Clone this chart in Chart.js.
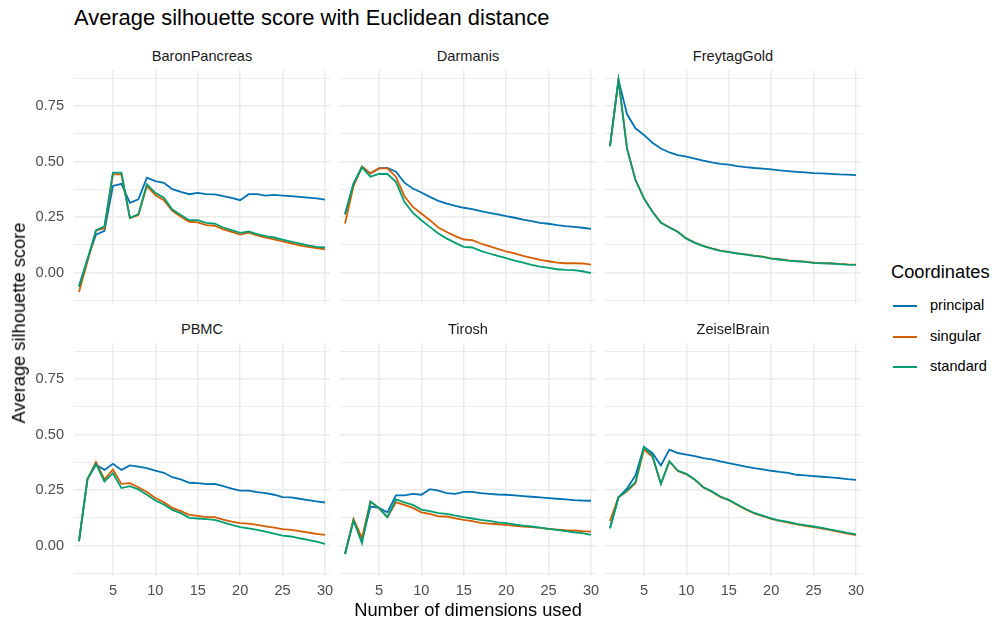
<!DOCTYPE html>
<html>
<head>
<meta charset="utf-8">
<script src="https://cdn.jsdelivr.net/npm/chart.js@4.4.1/dist/chart.umd.min.js"></script>
<style>
  body { margin: 0; background: #fff; font-family: "Liberation Sans", Arial, Helvetica, sans-serif; }
  #wrap { position: relative; width: 995px; height: 624px; overflow: hidden; }
  #wrap canvas { position: absolute; }
  .txt { position: absolute; white-space: nowrap; line-height: 1; }
  .strip { font-size: 14.6px; color: #1A1A1A; text-align: center; width: 256px; }
  .key { position: absolute; width: 24px; height: 2px; }
</style>
</head>
<body>
<div id="wrap"></div>
<script>
// ---- data ----
const dims = [1, 2, 3, 4, 5, 6, 7, 8, 9, 10, 11, 12, 13, 14, 15, 16, 17, 18, 19, 20, 21, 22, 23, 24, 25, 26, 27, 28, 29, 30];
const panels = ['BaronPancreas', 'Darmanis', 'FreytagGold', 'PBMC', 'Tirosh', 'ZeiselBrain'];
const coordinates = ['principal', 'singular', 'standard'];
const colours = ['#0072B2', '#D55E00', '#009E73'];
const xBreaks = [5, 10, 15, 20, 25, 30];
const yBreaks = [-0.125, 0, 0.125, 0.25, 0.375, 0.5, 0.625, 0.75, 0.875];
const yMajor = [0, 0.25, 0.5, 0.75];
const yTickLabels = ['0.00', '0.25', '0.50', '0.75'];

const baronPrincipal = [-0.06, 0.06, 0.171, 0.188, 0.39, 0.40, 0.314, 0.33, 0.428, 0.412, 0.404, 0.376, 0.364, 0.353, 0.359, 0.353, 0.352, 0.344, 0.337, 0.326, 0.353, 0.353, 0.347, 0.35, 0.347, 0.344, 0.341, 0.338, 0.334, 0.329];
const baronSingular = [-0.087, 0.05, 0.19, 0.20, 0.442, 0.442, 0.246, 0.259, 0.389, 0.349, 0.326, 0.278, 0.251, 0.229, 0.226, 0.214, 0.211, 0.195, 0.183, 0.171, 0.18, 0.168, 0.158, 0.15, 0.141, 0.132, 0.123, 0.116, 0.11, 0.105];
const baronStandard = [-0.065, 0.06, 0.19, 0.209, 0.45, 0.45, 0.246, 0.263, 0.398, 0.359, 0.337, 0.284, 0.259, 0.236, 0.236, 0.224, 0.221, 0.203, 0.191, 0.179, 0.185, 0.173, 0.164, 0.158, 0.149, 0.14, 0.131, 0.123, 0.116, 0.113];

const darmanisPrincipal = [0.263, 0.40, 0.477, 0.447, 0.469, 0.472, 0.454, 0.405, 0.379, 0.361, 0.341, 0.323, 0.311, 0.301, 0.292, 0.286, 0.277, 0.269, 0.262, 0.254, 0.247, 0.239, 0.232, 0.224, 0.22, 0.214, 0.209, 0.206, 0.202, 0.197];
const darmanisSingular = [0.221, 0.389, 0.477, 0.447, 0.469, 0.469, 0.432, 0.344, 0.296, 0.266, 0.236, 0.203, 0.183, 0.164, 0.149, 0.146, 0.131, 0.119, 0.107, 0.095, 0.086, 0.075, 0.066, 0.057, 0.051, 0.045, 0.042, 0.042, 0.041, 0.036];
const darmanisStandard = [0.263, 0.40, 0.474, 0.432, 0.444, 0.444, 0.409, 0.319, 0.269, 0.236, 0.206, 0.176, 0.153, 0.134, 0.116, 0.113, 0.098, 0.086, 0.075, 0.065, 0.054, 0.045, 0.035, 0.027, 0.021, 0.015, 0.012, 0.011, 0.006, -0.002];

const freytagPrincipal = [0.57, 0.868, 0.714, 0.65, 0.62, 0.585, 0.559, 0.541, 0.529, 0.522, 0.513, 0.504, 0.496, 0.49, 0.486, 0.48, 0.475, 0.471, 0.468, 0.465, 0.46, 0.457, 0.454, 0.451, 0.448, 0.447, 0.445, 0.442, 0.441, 0.439];
const freytagSingular = [0.57, 0.868, 0.561, 0.418, 0.335, 0.275, 0.225, 0.204, 0.184, 0.154, 0.135, 0.12, 0.109, 0.099, 0.093, 0.087, 0.082, 0.076, 0.072, 0.064, 0.06, 0.055, 0.052, 0.049, 0.045, 0.043, 0.042, 0.039, 0.037, 0.036];
const freytagStandard = [0.57, 0.868, 0.559, 0.417, 0.334, 0.274, 0.224, 0.203, 0.183, 0.153, 0.134, 0.119, 0.108, 0.098, 0.092, 0.086, 0.081, 0.075, 0.071, 0.063, 0.059, 0.054, 0.051, 0.048, 0.044, 0.042, 0.041, 0.038, 0.036, 0.035];

const pbmcPrincipal = [0.02, 0.30, 0.364, 0.341, 0.368, 0.341, 0.361, 0.356, 0.349, 0.338, 0.328, 0.308, 0.298, 0.283, 0.281, 0.277, 0.278, 0.268, 0.257, 0.248, 0.248, 0.241, 0.236, 0.229, 0.218, 0.217, 0.211, 0.205, 0.199, 0.194];
const pbmcSingular = [0.02, 0.30, 0.376, 0.298, 0.343, 0.278, 0.281, 0.263, 0.241, 0.214, 0.195, 0.17, 0.155, 0.138, 0.134, 0.128, 0.128, 0.117, 0.108, 0.101, 0.099, 0.093, 0.087, 0.081, 0.074, 0.071, 0.065, 0.059, 0.053, 0.048];
const pbmcStandard = [0.02, 0.30, 0.368, 0.289, 0.326, 0.259, 0.268, 0.253, 0.229, 0.203, 0.185, 0.161, 0.146, 0.125, 0.122, 0.119, 0.116, 0.105, 0.093, 0.083, 0.078, 0.071, 0.063, 0.054, 0.045, 0.041, 0.033, 0.026, 0.018, 0.008];

const tiroshPrincipal = [-0.038, 0.113, 0.023, 0.176, 0.17, 0.15, 0.226, 0.226, 0.233, 0.229, 0.254, 0.248, 0.236, 0.233, 0.242, 0.242, 0.236, 0.233, 0.23, 0.229, 0.226, 0.223, 0.22, 0.217, 0.214, 0.211, 0.208, 0.205, 0.203, 0.202];
const tiroshSingular = [-0.038, 0.12, 0.035, 0.198, 0.168, 0.128, 0.195, 0.183, 0.17, 0.15, 0.143, 0.132, 0.131, 0.123, 0.116, 0.11, 0.102, 0.099, 0.096, 0.093, 0.089, 0.086, 0.083, 0.08, 0.075, 0.072, 0.069, 0.068, 0.065, 0.063];
const tiroshStandard = [-0.038, 0.113, 0.011, 0.198, 0.17, 0.128, 0.208, 0.195, 0.183, 0.162, 0.155, 0.146, 0.143, 0.135, 0.128, 0.122, 0.116, 0.111, 0.105, 0.101, 0.095, 0.09, 0.086, 0.081, 0.075, 0.071, 0.065, 0.06, 0.056, 0.048];

const zeiselPrincipal = [0.078, 0.218, 0.256, 0.316, 0.444, 0.417, 0.361, 0.432, 0.417, 0.41, 0.403, 0.394, 0.388, 0.379, 0.371, 0.364, 0.356, 0.349, 0.343, 0.337, 0.332, 0.328, 0.319, 0.316, 0.313, 0.31, 0.307, 0.304, 0.299, 0.296];
const zeiselSingular = [0.11, 0.218, 0.244, 0.281, 0.433, 0.40, 0.278, 0.378, 0.336, 0.321, 0.296, 0.262, 0.243, 0.219, 0.205, 0.183, 0.163, 0.145, 0.133, 0.12, 0.111, 0.104, 0.096, 0.089, 0.083, 0.077, 0.07, 0.062, 0.054, 0.047];
const zeiselStandard = [0.078, 0.218, 0.248, 0.286, 0.444, 0.406, 0.278, 0.38, 0.338, 0.323, 0.298, 0.263, 0.244, 0.221, 0.206, 0.185, 0.165, 0.147, 0.135, 0.123, 0.113, 0.107, 0.098, 0.092, 0.086, 0.08, 0.072, 0.065, 0.057, 0.05];

const panelSeries = [
  [baronPrincipal, baronSingular, baronStandard],
  [darmanisPrincipal, darmanisSingular, darmanisStandard],
  [freytagPrincipal, freytagSingular, freytagStandard],
  [pbmcPrincipal, pbmcSingular, pbmcStandard],
  [tiroshPrincipal, tiroshSingular, tiroshStandard],
  [zeiselPrincipal, zeiselSingular, zeiselStandard]
];

// ---- layout ----
const FONT = '"Liberation Sans", Arial, Helvetica, sans-serif';
const colLeft = [74, 340, 605];
const rowTop = [70, 343];
const panelW = 256, panelH = 233;
const yAxisW = 50, xAxisH = 30, rightRoom = 14;
const wrap = document.getElementById('wrap');

function addText(text, css, cls) {
  const d = document.createElement('div');
  d.className = 'txt' + (cls ? ' ' + cls : '');
  d.textContent = text;
  Object.assign(d.style, css);
  wrap.appendChild(d);
  return d;
}

function makePanel(i) {
  const col = i % 3, row = Math.floor(i / 3);
  const extraL = col === 0 ? yAxisW : 0;
  const extraB = row === 1 ? xAxisH : 0;
  const extraR = row === 1 ? rightRoom : 0;
  const w = panelW + extraL + extraR, h = panelH + extraB;
  const cv = document.createElement('canvas');
  cv.width = w; cv.height = h;
  cv.style.left = (colLeft[col] - extraL) + 'px';
  cv.style.top = rowTop[row] + 'px';
  cv.style.width = w + 'px'; cv.style.height = h + 'px';
  wrap.appendChild(cv);

  addText(panels[i], { left: colLeft[col] + 'px', top: (rowTop[row] - 21.5) + 'px' }, 'strip');

  new Chart(cv, {
    type: 'line',
    data: {
      datasets: coordinates.map((c, j) => ({
        label: c,
        data: dims.map((d, k) => ({ x: d, y: panelSeries[i][j][k] })),
        borderColor: colours[j],
        borderWidth: 1.8,
        pointRadius: 0,
        tension: 0,
        fill: false,
        order: 3 - j
      }))
    },
    options: {
      responsive: false,
      animation: false,
      events: [],
      layout: { padding: { left: 0, top: 0, bottom: 0, right: extraR } },
      plugins: { legend: { display: false }, tooltip: { enabled: false } },
      scales: {
        x: {
          type: 'linear', min: 0.41, max: 30.59,
          border: { display: false },
          grid: { color: '#EBEBEB', lineWidth: 1.5, drawTicks: false },
          afterBuildTicks: s => { s.ticks = xBreaks.map(v => ({ value: v })); },
          afterFit: s => { s.height = extraB; s.paddingLeft = 0; s.paddingRight = 0; },
          ticks: {
            display: row === 1, autoSkip: false, maxRotation: 0, padding: 6,
            color: '#4D4D4D', font: { family: FONT, size: 14.6 },
            callback: v => String(v)
          }
        },
        y: {
          type: 'linear', min: -0.137, max: 0.9125,
          border: { display: false },
          grid: {
            color: '#EBEBEB', drawTicks: false,
            lineWidth: ctx => (yMajor.includes(ctx.tick && ctx.tick.value) ? 1.5 : 1)
          },
          afterBuildTicks: s => { s.ticks = yBreaks.map(v => ({ value: v })); },
          afterFit: s => { s.width = extraL; s.paddingTop = 0; s.paddingBottom = 0; },
          ticks: {
            display: col === 0, autoSkip: false, padding: 10,
            color: '#4D4D4D', font: { family: FONT, size: 14.6 },
            callback: v => { const m = yMajor.indexOf(v); return m >= 0 ? yTickLabels[m] : ''; }
          }
        }
      }
    }
  });
}

panels.forEach((p, i) => makePanel(i));

// title and axis titles
addText('Average silhouette score with Euclidean distance',
  { left: '74px', top: '7px', fontSize: '21.9px', color: '#000' });
addText('Number of dimensions used',
  { left: '468px', top: '601px', fontSize: '18.3px', color: '#000', transform: 'translateX(-50%)' });
addText('Average silhouette score',
  { left: '19px', top: '322.5px', fontSize: '18.3px', color: '#000', transform: 'translate(-50%, -50%) rotate(-90deg)' });

// legend
addText('Coordinates', { left: '891px', top: '263px', fontSize: '18.3px', color: '#000' });
const legendY = [306, 337, 367];
coordinates.forEach((c, j) => {
  const k = document.createElement('div');
  k.className = 'key';
  k.style.left = '893px';
  k.style.top = (legendY[j] - 1) + 'px';
  k.style.background = colours[j];
  wrap.appendChild(k);
  addText(c, { left: '930px', top: (legendY[j] - 8) + 'px', fontSize: '14.6px', color: '#000' });
});
</script>
</body>
</html>
